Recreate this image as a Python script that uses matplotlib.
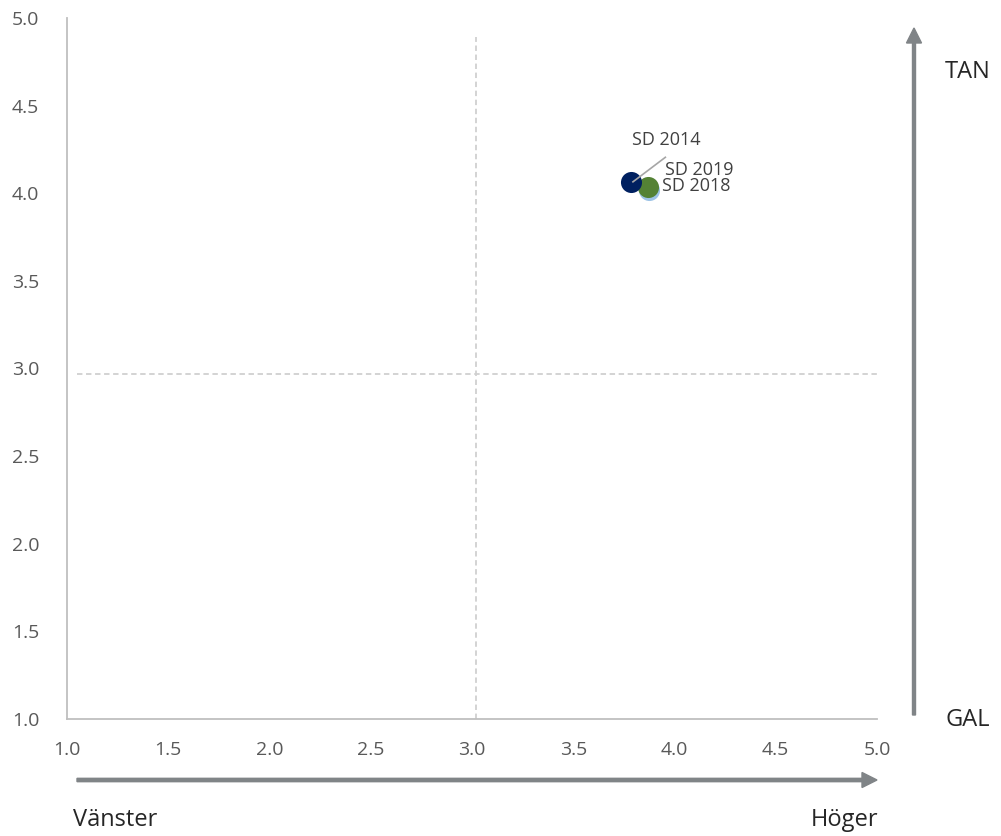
import matplotlib.pyplot as plt
from matplotlib.patches import FancyArrow

plt.rcParams['font.family'] = ['Open Sans', 'DejaVu Sans']

# party positions (left-right, GAL-TAN)
labels = ['SD 2019', 'SD 2018', 'SD 2014']
x_vals = [3.875, 3.87, 3.785]
y_vals = [4.02, 4.035, 4.065]
colors = ['#9dc3e6', '#548235', '#002060']
# label anchor points
lab_x = [4.12, 4.105, 3.96]
lab_y = [4.135, 4.042, 4.305]
ticks = [1.0, 1.5, 2.0, 2.5, 3.0, 3.5, 4.0, 4.5, 5.0]

fig = plt.figure(figsize=(10.01, 8.36), dpi=100)
ax = fig.add_axes([0.0669, 0.140, 0.8092, 0.8385])
ax.set_xlim(1, 5)
ax.set_ylim(1, 5)

# quadrant lines
ax.plot([3.02, 3.02], [1.0, 4.89], color='#d0d0d0', lw=1.3, dashes=(3, 2))
ax.plot([1.05, 5.0], [2.97, 2.97], color='#d0d0d0', lw=1.3, dashes=(3, 2))

for xv, yv, c in zip(x_vals, y_vals, colors):
    ax.scatter(xv, yv, s=230, color=c, zorder=3, linewidths=0)

# leader line for SD 2014
ax.plot([x_vals[2] + 0.01, 3.955], [y_vals[2], 4.205], color='#a6a6a6', lw=1.2, zorder=4)

for t, lx, ly in zip(labels, lab_x, lab_y):
    ax.text(lx, ly, t, fontsize=13, color='#404040', ha='center', va='center', zorder=5)

ax.set_xticks(ticks)
ax.set_yticks(ticks)
ax.set_xticklabels([f'{t:.1f}' for t in ticks])
ax.set_yticklabels([f'{t:.1f}' for t in ticks])
ax.tick_params(length=0, colors='#595959', labelsize=14, pad=16)
ax.tick_params(axis='y', pad=20)
for s in ['top', 'right']:
    ax.spines[s].set_visible(False)
for s in ['left', 'bottom']:
    ax.spines[s].set_color('#bfbfbf')
    ax.spines[s].set_linewidth(1.3)

# direction arrows
fig.patches.append(FancyArrow(
    77 / 1001, 1 - 780 / 836, (800 - 15) / 1001, 0, width=0.004, head_width=0.018,
    head_length=15 / 1001, length_includes_head=False, color='#808487', transform=fig.transFigure))
fig.patches.append(FancyArrow(
    914 / 1001, 1 - 715 / 836, 0, (715 - 28 - 15) / 836, width=0.003, head_width=0.015,
    head_length=15 / 836, length_includes_head=False, color='#808487', transform=fig.transFigure))

fig.text(115 / 1001, 1 - 820 / 836, 'Vänster', fontsize=17, color='#262626', ha='center', va='center')
fig.text(845 / 1001, 1 - 820 / 836, 'Höger', fontsize=17, color='#262626', ha='center', va='center')
fig.text(968 / 1001, 1 - 72 / 836, 'TAN', fontsize=17, color='#262626', ha='center', va='center')
fig.text(968 / 1001, 1 - 720 / 836, 'GAL', fontsize=17, color='#262626', ha='center', va='center')

fig.savefig('out.png', dpi=100)
